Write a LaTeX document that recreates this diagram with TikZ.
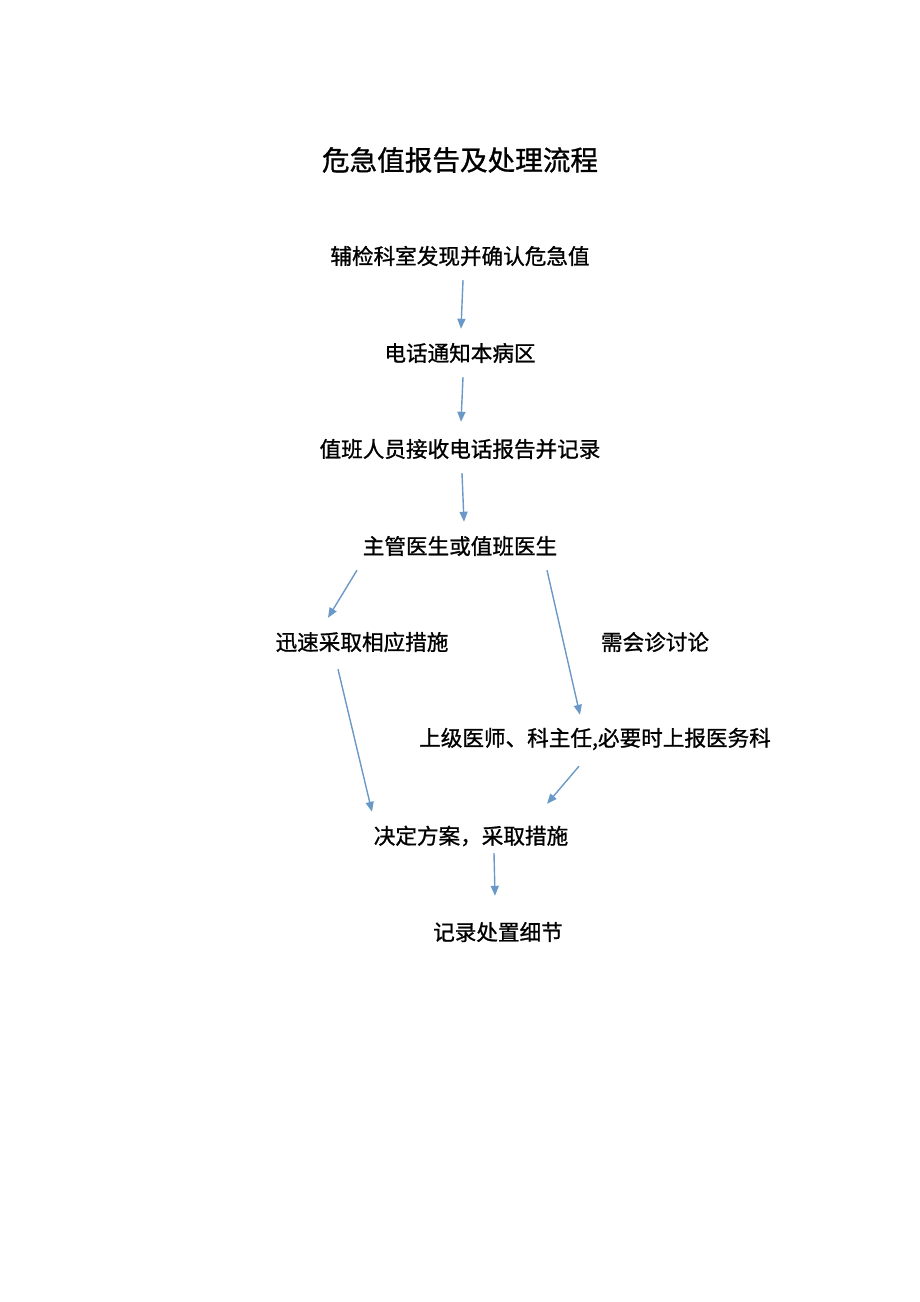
\documentclass[tikz,border=0pt]{standalone}
\usepackage{fontspec}
\setmainfont[AutoFakeBold=1.0]{Noto Sans CJK SC}
\usetikzlibrary{arrows.meta}
\definecolor{flowblue}{RGB}{106,152,199}
\tikzset{
  stepnode/.style={inner sep=0pt, minimum height=48pt, font=\fontsize{21.6}{26}\selectfont\bfseries},
  flowarrow/.style={draw=flowblue, line width=1.4pt, -{Triangle[length=10pt,width=8pt]}}
}

\begin{document}
\begin{tikzpicture}[x=1pt, y=-1pt]
            %\draw[lightgray] (0, 0) grid[step=100] (920, 1302);
            \useasboundingbox (0, 0) rectangle (920, 1302);
            \node[stepnode, font=\fontsize{27.6}{32}\selectfont\bfseries] (title) at (460, 160) {危急值报告及处理流程};
            \node[stepnode] (detect) at (460, 256) {辅检科室发现并确认危急值};
            \node[stepnode] (phone) at (460, 353) {电话通知本病区};
            \node[stepnode] (receive) at (460, 449) {值班人员接收电话报告并记录};
            \node[stepnode] (doctor) at (460, 546) {主管医生或值班医生};
            \node[stepnode] (rapid) at (362, 642) {迅速采取相应措施};
            \node[stepnode] (consult) at (655, 642) {需会诊讨论};
            \node[stepnode] (senior) at (595, 739) {上级医师、科主任,必要时上报医务科};
            \node[stepnode] (decide) at (471, 836) {决定方案，采取措施};
            \node[stepnode] (details) at (498, 932) {记录处置细节};
            \draw[flowarrow] ([xshift=3]detect.south) -- ([xshift=1]phone.north);
            \draw[flowarrow] ([xshift=3]phone.south) -- ([xshift=1, yshift=3]receive.north);
            \draw[flowarrow] ([xshift=2]receive.south) -- ([xshift=4]doctor.north);
            \draw[flowarrow] ([xshift=-103]doctor.south) -- ([xshift=-34]rapid.north);
            \draw[flowarrow] ([xshift=87]doctor.south) -- ([xshift=-15]senior.north);
            \draw[flowarrow] ([xshift=-24, yshift=-3]rapid.south) -- ([xshift=-99]decide.north);
            \draw[flowarrow] ([xshift=-16, yshift=-3]senior.south) -- ([xshift=76, yshift=8]decide.north);
            \draw[flowarrow] ([xshift=23, yshift=7]decide.south) -- ([xshift=-3, yshift=12]details.north);
        \end{tikzpicture}
\end{document}
